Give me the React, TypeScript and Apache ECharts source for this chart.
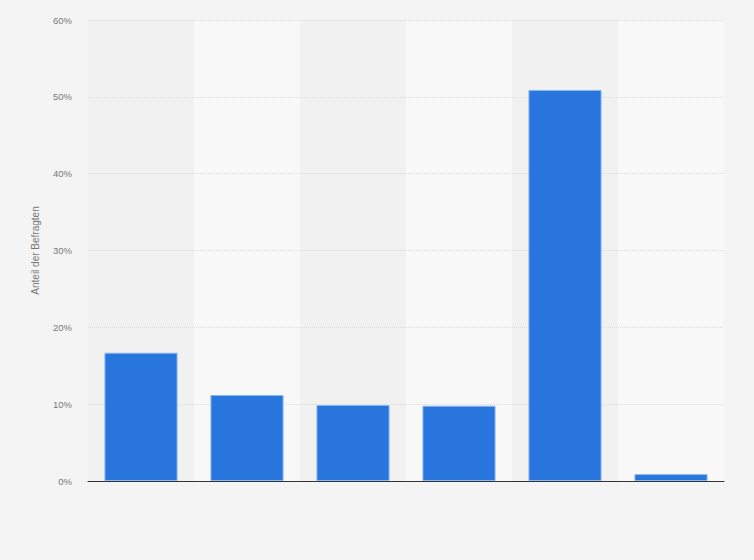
import { useEffect, useRef } from 'react'
import * as echarts from 'echarts'

const CATEGORIES = ['Antwort 1', 'Antwort 2', 'Antwort 3', 'Antwort 4', 'Antwort 5', 'Antwort 6']
const SHARES = [16.7, 11.2, 9.9, 9.8, 50.9, 0.9]
const Y_TICKS = [0, 10, 20, 30, 40, 50, 60]

// Balkendiagramm: Anteil der Befragten je Antwort
export default function App() {
  const elRef = useRef<HTMLDivElement>(null)

  useEffect(() => {
    document.body.style.margin = '0'
    if (!elRef.current) return
    const chart = echarts.init(elRef.current, undefined, { renderer: 'svg' })
    chart.setOption({
      animation: false,
      backgroundColor: '#f4f4f4',
      grid: { left: 88, right: 30, top: 20, bottom: 79 },
      xAxis: [
        {
          // nur für die abwechselnden Spaltenhintergründe
          type: 'category',
          data: CATEGORIES,
          z: 0,
          axisTick: { show: false },
          axisLabel: { show: false },
          axisLine: { show: false },
          splitArea: { show: true, areaStyle: { color: ['#f1f1f1', '#f8f8f8'] } },
        },
        {
          type: 'category',
          data: CATEGORIES,
          position: 'bottom',
          z: 5,
          axisTick: { show: false },
          axisLabel: { show: false },
          axisLine: { lineStyle: { color: '#333', width: 1.2 } },
        },
      ],
      yAxis: {
        type: 'value',
        z: 1,
        min: Y_TICKS[0],
        max: Y_TICKS[Y_TICKS.length - 1],
        interval: 10,
        name: 'Anteil der Befragten',
        nameLocation: 'middle',
        nameGap: 48,
        nameTextStyle: { color: '#777', fontSize: 10, fontFamily: 'Liberation Sans' },
        axisLine: { show: false },
        axisTick: { show: false },
        axisLabel: {
          formatter: '{value}%',
          color: '#777',
          fontSize: 9.5,
          margin: 16,
          fontFamily: 'Liberation Sans',
        },
        splitLine: { lineStyle: { color: '#dcdcdc', type: 'dotted' } },
      },
      series: [
        {
          type: 'bar',
          z: 2,
          xAxisIndex: 0,
          data: SHARES,
          barCategoryGap: '31%',
          itemStyle: { color: '#2876dd', borderColor: '#8db8ef', borderWidth: 1 },
        },
      ],
    })
    return () => chart.dispose()
  }, [])

  return <div ref={elRef} style={{ width: 754, height: 560 }} />
}
